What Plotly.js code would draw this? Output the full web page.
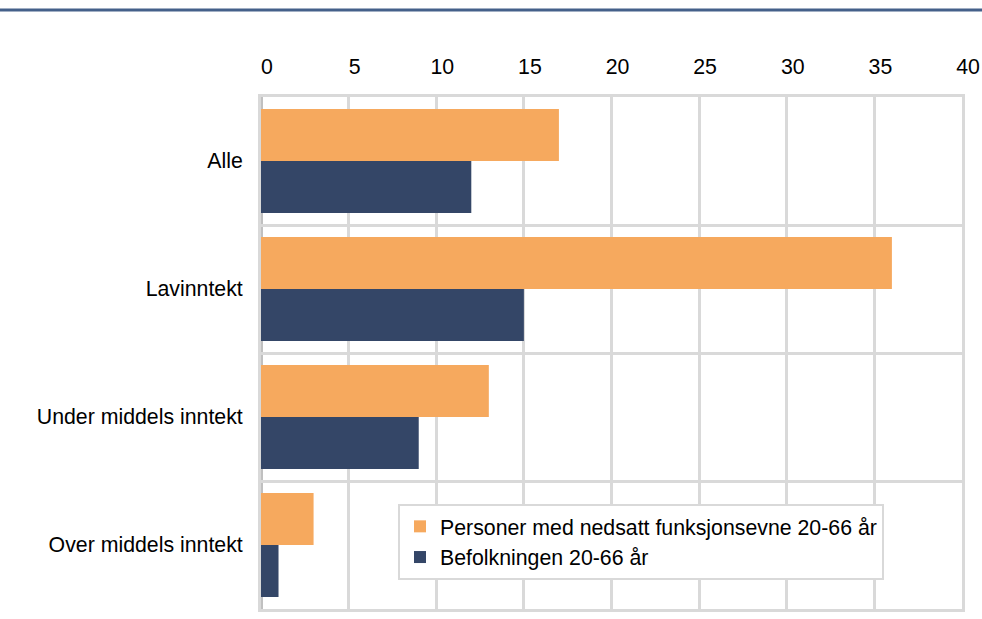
<!DOCTYPE html>
<html><head><meta charset="utf-8">
<script src="https://cdn.plot.ly/plotly-3.0.1.min.js"></script>
<style>html,body{margin:0;padding:0;background:#fff;}#chart{width:982px;height:619px;}</style>
</head><body><div id="chart"></div>
<script>
const categories = ["Alle", "Lavinntekt", "Under middels inntekt", "Over middels inntekt"];
const seriesNames = ["Personer med nedsatt funksjonsevne 20-66 år", "Befolkningen 20-66 år"];
const nedsatt = [17, 36, 13, 3];
const befolkningen = [12, 15, 9, 1];
const xTicks = [0, 5, 10, 15, 20, 25, 30, 35, 40];

const font = {family: "Liberation Sans, Arial, sans-serif", size: 21.3, color: "#000"};
const traces = [
  {type: "bar", orientation: "h", name: seriesNames[0], y: categories, x: nedsatt,
   marker: {color: "#F6A95E"}},
  {type: "bar", orientation: "h", name: seriesNames[1], y: categories, x: befolkningen,
   marker: {color: "#344667"}}
];
const L = 261, R = 20, T = 97, B = 10;
const W = 982 - L - R, H = 619 - T - B;
const layout = {
  width: 982, height: 619,
  margin: {l: L, r: R, t: T, b: B},
  paper_bgcolor: "#fff", plot_bgcolor: "#fff",
  font: font,
  barmode: "group", bargap: 0.1875, bargroupgap: 0,
  showlegend: true,
  legend: {x: (398 - L) / W, y: (619 - B - 504) / H, xanchor: "left", yanchor: "top", bgcolor: "#fff",
           bordercolor: "#d9d9d9", borderwidth: 2, font: font, traceorder: "normal",
           itemwidth: 30, tracegroupgap: 0},
  xaxis: {side: "top", range: [0, 40], tickvals: xTicks, ticktext: xTicks.map(String),
          showgrid: true, gridcolor: "#d9d9d9", gridwidth: 3,
          zeroline: false,
          ticks: "", ticklabelstandoff: 11, ticklabelshift: 6,
          showline: true, linecolor: "#d9d9d9", linewidth: 3, mirror: true, fixedrange: true},
  yaxis: {autorange: "reversed", type: "category", tickson: "boundaries",
          showgrid: true, gridcolor: "#d9d9d9", gridwidth: 3,
          ticks: "", ticklabelstandoff: 11,
          showline: true, linecolor: "#d9d9d9", linewidth: 3, mirror: true,
          zeroline: false, fixedrange: true},
  shapes: [
    {type: "line", xref: "paper", yref: "paper", x0: -L / W, x1: 1 + R / W,
     y0: 1 + (T - 10) / H, y1: 1 + (T - 10) / H, line: {color: "#44608A", width: 3}},
    {type: "line", xref: "paper", yref: "paper", x0: 0, x1: 0, y0: 0, y1: 1, layer: "below",
     line: {color: "#c0c0c0", width: 4}}
  ]
};
Plotly.newPlot("chart", traces, layout, {displayModeBar: false, staticPlot: true});
</script></body></html>
